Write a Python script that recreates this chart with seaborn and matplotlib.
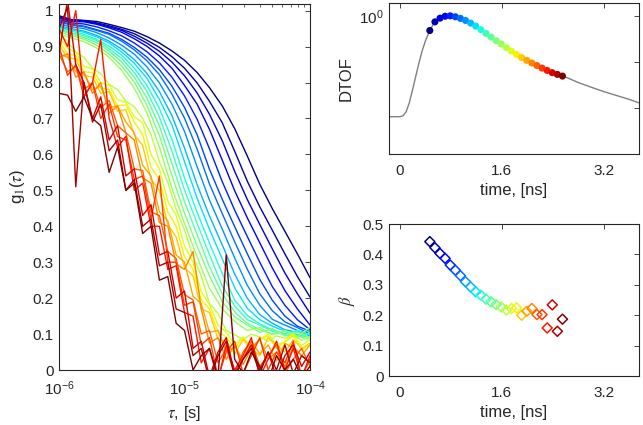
import numpy as np
import pandas as pd
import matplotlib
matplotlib.use("Agg")
import matplotlib.pyplot as plt
import seaborn as sns
from matplotlib.ticker import FixedLocator, FixedFormatter, NullLocator, FuncFormatter, LogLocator, NullFormatter

# ---------------- data ----------------
# correlator lag times (microseconds)
tau_coarse_us = [1.00, 1.26, 1.58, 2.00, 2.51, 3.16, 3.98, 5.01, 6.31, 7.94, 10.0,
                 12.6, 15.8, 20.0, 25.1, 31.6, 39.8, 50.1, 63.1, 79.4, 100.0]
tau_fine_us = [1.00, 1.17, 1.36, 1.58, 1.85, 2.15, 2.51, 2.93, 3.41, 3.98, 4.64,
               5.41, 6.31, 7.36, 8.58, 10.0, 11.7, 13.6, 15.8, 18.5, 21.5, 25.1,
               29.3, 34.1, 39.8, 46.4, 54.1, 63.1, 73.6, 85.8, 100.0]

# g1 curves, one per time gate (early gates: smooth, on coarse grid)
g1_smooth = [
    [0.986, 0.975, 0.973, 0.970, 0.962, 0.953, 0.943, 0.928, 0.910, 0.888, 0.862, 0.828, 0.786, 0.735, 0.672, 0.596, 0.517, 0.449, 0.386, 0.323, 0.257],
    [0.982, 0.975, 0.972, 0.966, 0.958, 0.948, 0.936, 0.918, 0.898, 0.872, 0.840, 0.799, 0.748, 0.688, 0.609, 0.526, 0.454, 0.389, 0.323, 0.260, 0.203],
    [0.981, 0.972, 0.971, 0.964, 0.955, 0.945, 0.929, 0.910, 0.887, 0.857, 0.819, 0.771, 0.712, 0.638, 0.553, 0.475, 0.405, 0.337, 0.270, 0.212, 0.158],
    [0.979, 0.970, 0.969, 0.962, 0.952, 0.940, 0.922, 0.901, 0.874, 0.840, 0.792, 0.740, 0.670, 0.584, 0.499, 0.424, 0.354, 0.284, 0.221, 0.170, 0.125],
    [0.975, 0.966, 0.963, 0.955, 0.944, 0.930, 0.910, 0.886, 0.855, 0.815, 0.763, 0.698, 0.616, 0.524, 0.445, 0.372, 0.300, 0.232, 0.180, 0.140, 0.112],
    [0.970, 0.962, 0.957, 0.947, 0.937, 0.920, 0.898, 0.871, 0.836, 0.790, 0.731, 0.655, 0.559, 0.475, 0.399, 0.324, 0.252, 0.194, 0.150, 0.122, 0.108],
    [0.968, 0.960, 0.955, 0.945, 0.934, 0.915, 0.891, 0.861, 0.822, 0.768, 0.701, 0.615, 0.518, 0.435, 0.357, 0.281, 0.212, 0.165, 0.134, 0.118, 0.100],
    [0.962, 0.955, 0.950, 0.939, 0.924, 0.904, 0.879, 0.844, 0.799, 0.740, 0.664, 0.566, 0.473, 0.392, 0.312, 0.236, 0.180, 0.141, 0.125, 0.110, 0.095],
    [0.957, 0.950, 0.943, 0.931, 0.915, 0.893, 0.864, 0.826, 0.775, 0.708, 0.618, 0.516, 0.429, 0.348, 0.267, 0.200, 0.154, 0.130, 0.112, 0.105, 0.110],
    [0.955, 0.946, 0.940, 0.927, 0.910, 0.885, 0.854, 0.812, 0.753, 0.682, 0.580, 0.478, 0.392, 0.309, 0.229, 0.172, 0.140, 0.122, 0.108, 0.098, 0.092],
    [0.952, 0.943, 0.934, 0.920, 0.901, 0.876, 0.840, 0.793, 0.728, 0.642, 0.535, 0.439, 0.353, 0.268, 0.195, 0.152, 0.128, 0.112, 0.100, 0.110, 0.098],
    [0.948, 0.938, 0.930, 0.917, 0.894, 0.867, 0.828, 0.776, 0.704, 0.609, 0.501, 0.408, 0.321, 0.234, 0.178, 0.140, 0.125, 0.108, 0.098, 0.090, 0.104],
    [0.946, 0.935, 0.925, 0.911, 0.888, 0.857, 0.815, 0.757, 0.679, 0.575, 0.469, 0.377, 0.288, 0.212, 0.162, 0.130, 0.112, 0.100, 0.108, 0.095, 0.085],
    [0.941, 0.930, 0.921, 0.904, 0.879, 0.846, 0.802, 0.737, 0.653, 0.541, 0.437, 0.345, 0.262, 0.190, 0.148, 0.125, 0.105, 0.115, 0.095, 0.105, 0.090],
    [0.935, 0.924, 0.914, 0.896, 0.870, 0.834, 0.784, 0.716, 0.621, 0.506, 0.408, 0.315, 0.228, 0.170, 0.135, 0.110, 0.118, 0.098, 0.110, 0.092, 0.120],
]
# late gates: noisy, on fine grid
g1_noisy = [
    [0.935, 0.915, 0.885, 0.870, 0.840, 0.825, 0.795, 0.780, 0.748, 0.733, 0.700, 0.655, 0.580, 0.522, 0.447, 0.390, 0.315, 0.262, 0.185, 0.158, 0.110, 0.098, 0.085, 0.100, 0.092, 0.080, 0.095, 0.088, 0.100, 0.082, 0.095],
    [0.925, 0.895, 0.885, 0.845, 0.838, 0.800, 0.792, 0.752, 0.745, 0.705, 0.688, 0.600, 0.560, 0.470, 0.430, 0.345, 0.300, 0.218, 0.182, 0.125, 0.105, 0.070, 0.092, 0.065, 0.085, 0.100, 0.070, 0.078, 0.095, 0.068, 0.085],
    [0.915, 0.880, 0.875, 0.830, 0.828, 0.785, 0.780, 0.735, 0.738, 0.690, 0.655, 0.565, 0.530, 0.440, 0.400, 0.315, 0.280, 0.195, 0.170, 0.105, 0.092, 0.060, 0.090, 0.055, 0.085, 0.095, 0.060, 0.080, 0.100, 0.055, 0.070],
    [0.905, 0.870, 0.865, 0.820, 0.815, 0.770, 0.775, 0.720, 0.725, 0.655, 0.625, 0.530, 0.500, 0.405, 0.370, 0.285, 0.262, 0.170, 0.160, 0.085, 0.080, 0.045, 0.085, 0.060, 0.040, 0.090, 0.070, 0.050, 0.085, 0.060, 0.075],
    [0.880, 0.870, 0.830, 0.825, 0.780, 0.790, 0.730, 0.735, 0.690, 0.660, 0.570, 0.540, 0.440, 0.415, 0.320, 0.300, 0.205, 0.185, 0.105, 0.110, 0.050, 0.065, 0.030, 0.080, 0.045, 0.070, 0.025, 0.075, 0.060, 0.040, 0.070],
    [0.870, 0.880, 0.815, 0.830, 0.770, 0.800, 0.715, 0.735, 0.660, 0.640, 0.535, 0.520, 0.410, 0.400, 0.295, 0.280, 0.330, 0.170, 0.075, 0.090, 0.030, 0.070, 0.015, 0.060, 0.085, 0.030, 0.050, 0.010, 0.065, 0.040, 0.020],
    [0.880, 0.830, 0.845, 0.780, 0.800, 0.730, 0.750, 0.680, 0.660, 0.560, 0.555, 0.440, 0.430, 0.330, 0.310, 0.210, 0.195, 0.100, 0.110, 0.020, 0.060, -0.010, 0.050, 0.080, 0.010, 0.040, 0.070, -0.010, 0.030, 0.060, 0.010],
    [0.900, 0.820, 0.850, 0.760, 0.800, 0.700, 0.740, 0.650, 0.640, 0.530, 0.540, 0.420, 0.540, 0.300, 0.300, 0.180, 0.190, 0.070, 0.090, -0.020, 0.050, 0.080, -0.010, 0.040, 0.090, 0.000, 0.050, 0.020, 0.080, -0.020, 0.030],
    [0.950, 0.900, 1.000, 0.760, 0.800, 0.920, 0.700, 0.620, 0.650, 0.500, 0.520, 0.400, 0.400, 0.280, 0.290, 0.160, 0.150, 0.020, 0.060, -0.030, 0.070, 0.000, 0.040, 0.090, -0.020, 0.030, 0.080, 0.000, 0.060, -0.020, 0.040],
    [0.880, 1.030, 0.850, 0.800, 0.700, 0.760, 0.640, 0.680, 0.540, 0.560, 0.430, 0.460, 0.320, 0.330, 0.200, 0.220, 0.060, 0.080, -0.020, 0.050, 0.090, -0.010, 0.030, 0.070, 0.000, 0.050, -0.020, 0.040, 0.070, 0.010, 0.050],
    [0.950, 1.010, 0.510, 0.800, 0.690, 0.740, 0.610, 0.640, 0.500, 0.530, 0.400, 0.420, 0.290, 0.300, 0.170, 0.160, 0.040, 0.060, -0.030, 0.040, 0.080, -0.020, 0.030, 0.060, -0.010, 0.050, 0.000, 0.070, -0.010, 0.040, 0.020],
    [0.770, 0.765, 0.720, 0.760, 0.700, 0.680, 0.550, 0.620, 0.500, 0.520, 0.380, 0.400, 0.250, 0.260, 0.130, 0.110, 0.000, 0.040, 0.060, -0.020, 0.320, 0.030, -0.010, 0.050, 0.010, -0.030, 0.040, 0.000, 0.030, -0.020, 0.010],
]

# time gates (ns) with DTOF value and stretching exponent beta
gate_t = [0.47, 0.55, 0.63, 0.71, 0.79, 0.87, 0.95, 1.03, 1.11, 1.19, 1.27, 1.35, 1.43, 1.51,
          1.59, 1.67, 1.75, 1.83, 1.91, 1.99, 2.07, 2.15, 2.23, 2.31, 2.39, 2.47, 2.55]
gate_dtof = [0.48, 0.74, 0.89, 0.98, 1.0, 0.955, 0.88, 0.794, 0.697, 0.600, 0.501, 0.417, 0.347, 0.288,
             0.245, 0.204, 0.172, 0.145, 0.124, 0.108, 0.0946, 0.0832, 0.0733, 0.0652, 0.0583, 0.0535, 0.0492]
beta = [0.442, 0.422, 0.403, 0.387, 0.365, 0.348, 0.330, 0.310, 0.293, 0.277, 0.266, 0.253, 0.244, 0.235,
        0.227, 0.217, 0.222, 0.224, 0.200, 0.213, 0.222, 0.202, 0.202, 0.158, 0.234, 0.147, 0.187]

# full DTOF curve
dtof_t = [-0.17, 0.00, 0.05, 0.10, 0.15, 0.20, 0.25, 0.30, 0.35, 0.40, 0.45, 0.50, 0.55, 0.60, 0.65,
          0.70, 0.75, 0.80, 0.90, 1.00, 1.10, 1.20, 1.30, 1.40, 1.50, 1.60, 1.70, 1.80, 1.90, 2.00,
          2.10, 2.20, 2.30, 2.40, 2.50, 2.60, 2.80, 3.00, 3.20, 3.40, 3.60, 3.75]
dtof_val = [0.00646, 0.00646, 0.00676, 0.00832, 0.0132, 0.0251, 0.0490, 0.0955, 0.174, 0.282, 0.417,
            0.575, 0.724, 0.841, 0.923, 0.977, 1.0, 0.993, 0.933, 0.832, 0.708, 0.589, 0.468, 0.372,
            0.295, 0.240, 0.191, 0.155, 0.126, 0.106, 0.0902, 0.0767, 0.0661, 0.0575, 0.0519, 0.0468,
            0.0355, 0.0282, 0.0226, 0.0186, 0.0153, 0.0129]

# ---------------- style ----------------
sns.set_theme(style="white")
TXT = "#262626"
plt.rcParams["font.family"] = ["Liberation Sans", "DejaVu Sans"]
plt.rcParams["mathtext.fontset"] = "stix"
plt.rcParams["axes.edgecolor"] = TXT
plt.rcParams["axes.labelcolor"] = TXT
plt.rcParams["xtick.color"] = TXT
plt.rcParams["ytick.color"] = TXT

n_gates = len(gate_t)
cols = plt.cm.jet(np.linspace(0, 1, n_gates))
pal = {k: cols[k] for k in range(n_gates)}

rows = []
for k, curve in enumerate(g1_smooth):
    for t, g in zip(tau_coarse_us, curve):
        rows.append((k, t * 1e-6, g))
for j, curve in enumerate(g1_noisy):
    k = len(g1_smooth) + j
    for t, g in zip(tau_fine_us, curve):
        rows.append((k, t * 1e-6, g))
df = pd.DataFrame(rows, columns=["gate", "tau", "g1"])
dg = pd.DataFrame({"gate": range(n_gates), "t": gate_t, "dtof": gate_dtof, "beta": beta})

fig = plt.figure(figsize=(6.43, 4.25), dpi=100)
W, H = 643, 425
def box(x0, y0, x1, y1):
    return [x0 / W, 1 - y1 / H, (x1 - x0) / W, (y1 - y0) / H]

ax1 = fig.add_axes(box(59, 3.5, 310, 370))
ax2 = fig.add_axes(box(389, 3, 639, 154))
ax3 = fig.add_axes(box(389, 224, 639, 376))

def style(ax):
    for s in ax.spines.values():
        s.set_color(TXT)
        s.set_linewidth(0.8)
    ax.tick_params(which="major", direction="in", top=True, right=True, length=3.5,
                   width=0.6, labelsize=11, pad=4, colors=TXT)
    ax.tick_params(which="minor", direction="in", top=True, right=True, length=2,
                   width=0.5, colors=TXT)
    ax.tick_params(axis="x", which="major", pad=7)

fmt = FuncFormatter(lambda v, p: "%g" % round(v, 3))

# ---- left: g1 curves ----
for k in range(n_gates):
    sub = df[df.gate == k]
    sns.lineplot(data=sub, x="tau", y="g1", color=pal[k], lw=1.0, ax=ax1,
                 estimator=None, sort=False, legend=False)
ax1.set_xscale("log")
ax1.set_xlim(1e-6, 1e-4)
ax1.set_ylim(0, 1.02)
ax1.xaxis.set_major_locator(FixedLocator([1e-6, 1e-5, 1e-4]))
ax1.xaxis.set_minor_locator(LogLocator(base=10, subs=np.arange(2, 10)))
ax1.xaxis.set_minor_formatter(NullFormatter())
ax1.yaxis.set_major_locator(FixedLocator(np.round(np.arange(0, 1.01, 0.1), 1)))
ax1.yaxis.set_major_formatter(fmt)
ax1.set_xlabel(r"$\tau$, [s]", fontsize=12)
ax1.set_ylabel(r"g$_1$($\tau$)", fontsize=12)
style(ax1)

# ---- top right: DTOF ----
sns.lineplot(x=dtof_t, y=dtof_val, color="#808080", lw=1.0, ax=ax2, sort=False)
sns.scatterplot(data=dg, x="t", y="dtof", hue="gate", palette=pal, s=26,
                linewidth=0, legend=False, ax=ax2, zorder=3)
ax2.set_yscale("log")
ax2.set_ylim(1e-3, 1.9)
ax2.set_xlim(-0.17, 3.75)
ax2.yaxis.set_major_locator(FixedLocator([1e-2, 1e-1, 1e0]))
ax2.yaxis.set_major_formatter(FixedFormatter(["", "", r"$\mathdefault{10^{0}}$"]))
ax2.yaxis.set_minor_locator(NullLocator())
ax2.xaxis.set_major_locator(FixedLocator([0, 1.6, 3.2]))
ax2.xaxis.set_major_formatter(fmt)
ax2.set_xlabel("time, [ns]", fontsize=12)
ax2.set_ylabel("DTOF", fontsize=12)
style(ax2)

# ---- bottom right: beta ----
sns.scatterplot(data=dg, x="t", y="beta", hue="gate", palette=pal, marker="D", s=26,
                legend=False, ax=ax3)
coll = ax3.collections[-1]
fc = coll.get_facecolors()
coll.set_edgecolors(fc)
coll.set_facecolors("none")
coll.set_linewidths(1.1)
ax3.set_xlim(-0.17, 3.75)
ax3.set_ylim(0, 0.5)
ax3.xaxis.set_major_locator(FixedLocator([0, 1.6, 3.2]))
ax3.xaxis.set_major_formatter(fmt)
ax3.yaxis.set_major_locator(FixedLocator([0, 0.1, 0.2, 0.3, 0.4, 0.5]))
ax3.yaxis.set_major_formatter(fmt)
ax3.set_xlabel("time, [ns]", fontsize=12)
ax3.set_ylabel(r"$\beta$", fontsize=12)
style(ax3)

fig.savefig("out.png", dpi=100)
